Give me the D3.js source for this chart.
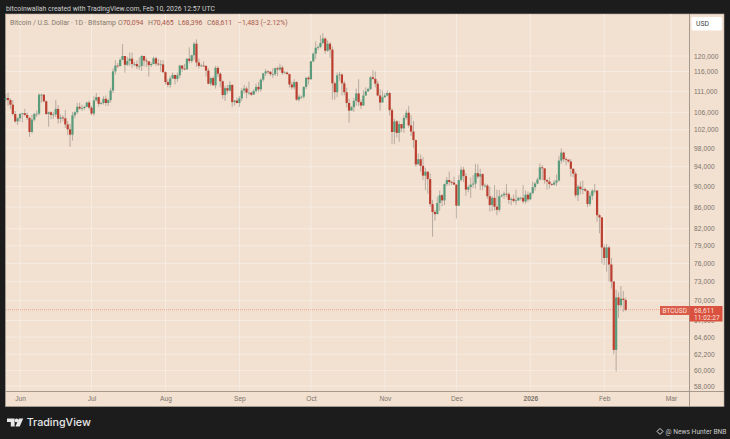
<!DOCTYPE html>
<html>
<head>
<meta charset="utf-8">
<script src="https://cdn.jsdelivr.net/npm/d3@7"></script>
<style>
  html, body { margin: 0; padding: 0; background: #1c1c1c; }
  svg { display: block; font-family: Roboto, "Liberation Sans", sans-serif; }
</style>
</head>
<body>
<svg id="chart" width="730" height="439"></svg>
<script>
// daily candles from 2025-05-26, prices in thousands of USD, one row per month
const firstDay = '2025-05-26';

const opens = [
  109.0,109.4,108.9,107.8,105.6,103.9,
  104.6,105.6,105.8,105.4,104.7,101.5,104.3,105.6,105.7,110.2,110.2,108.6,105.6,106.0,105.4,105.5,106.8,104.5,104.8,104.6,103.2,102.1,100.9,105.3,106.0,107.3,106.9,107.0,107.3,108.3,
  107.1,105.7,108.8,109.6,108.0,108.2,109.2,108.2,108.9,111.2,116.0,117.5,117.4,119.0,120.0,117.7,118.7,119.3,117.9,117.9,117.3,117.4,120.0,118.8,118.6,117.6,117.9,119.4,118.0,117.8,117.8,
  115.8,113.3,112.6,114.2,115.1,114.1,115.0,117.5,116.7,116.5,119.3,118.7,120.2,123.3,118.3,117.4,117.5,117.4,116.2,112.9,114.3,112.5,116.9,115.4,113.5,110.1,111.8,111.2,112.6,108.4,108.8,
  108.2,109.3,111.2,111.7,110.7,110.7,110.2,111.1,112.1,111.5,113.9,115.5,116.0,115.9,115.3,115.3,116.8,116.5,117.0,115.6,115.7,115.3,112.7,112.0,113.3,109.0,109.7,109.7,112.1,114.4,
  114.0,118.6,120.6,122.2,122.4,123.5,124.7,121.4,123.3,121.7,113.0,110.8,115.0,115.2,113.0,110.8,108.2,106.4,107.2,108.7,110.5,108.4,107.6,110.0,111.0,111.6,114.5,114.1,112.9,110.0,108.3,
  109.6,110.0,110.6,106.5,101.5,103.9,101.3,103.3,102.3,104.7,105.9,103.0,101.6,99.7,94.5,95.6,94.2,92.2,93.0,91.5,86.6,85.1,84.7,86.8,88.3,87.3,90.5,91.3,90.9,90.8,
  90.4,86.3,91.3,93.4,92.1,89.4,89.9,90.4,90.6,92.7,92.0,92.5,90.2,90.2,88.1,86.4,87.8,86.1,85.5,88.1,88.3,88.6,88.5,87.4,87.6,87.2,87.3,87.8,87.8,87.1,88.4,
  87.5,88.7,89.9,90.6,91.4,93.9,93.7,91.3,91.0,90.5,90.4,90.8,91.2,95.3,97.0,95.6,95.5,95.1,93.6,92.6,88.3,90.0,89.5,89.5,89.2,86.6,88.2,89.2,89.2,84.5,84.1,
  78.7,76.9,78.7,75.8,73.0,62.8,70.5,69.3,70.3,70.094
];

const closes = [
  109.4,108.9,107.8,105.6,103.9,104.6,
  105.6,105.8,105.4,104.7,101.5,104.3,105.6,105.7,110.2,110.2,108.6,105.6,106.0,105.4,105.5,106.8,104.5,104.8,104.6,103.2,102.1,100.9,105.3,106.0,107.3,106.9,107.0,107.3,108.3,107.1,
  105.7,108.8,109.6,108.0,108.2,109.2,108.2,108.9,111.2,116.0,117.5,117.4,119.0,120.0,117.7,118.7,119.3,117.9,117.9,117.3,117.4,120.0,118.8,118.6,117.6,117.9,119.4,118.0,117.8,117.8,115.8,
  113.3,112.6,114.2,115.1,114.1,115.0,117.5,116.7,116.5,119.3,118.7,120.2,123.3,118.3,117.4,117.5,117.4,116.2,112.9,114.3,112.5,116.9,115.4,113.5,110.1,111.8,111.2,112.6,108.4,108.8,108.2,
  109.3,111.2,111.7,110.7,110.7,110.2,111.1,112.1,111.5,113.9,115.5,116.0,115.9,115.3,115.3,116.8,116.5,117.0,115.6,115.7,115.3,112.7,112.0,113.3,109.0,109.7,109.7,112.1,114.4,114.0,
  118.6,120.6,122.2,122.4,123.5,124.7,121.4,123.3,121.7,113.0,110.8,115.0,115.2,113.0,110.8,108.2,106.4,107.2,108.7,110.5,108.4,107.6,110.0,111.0,111.6,114.5,114.1,112.9,110.0,108.3,109.6,
  110.0,110.6,106.5,101.5,103.9,101.3,103.3,102.3,104.7,105.9,103.0,101.6,99.7,94.5,95.6,94.2,92.2,93.0,91.5,86.6,85.1,84.7,86.8,88.3,87.3,90.5,91.3,90.9,90.8,90.4,
  86.3,91.3,93.4,92.1,89.4,89.9,90.4,90.6,92.7,92.0,92.5,90.2,90.2,88.1,86.4,87.8,86.1,85.5,88.1,88.3,88.6,88.5,87.4,87.6,87.2,87.3,87.8,87.8,87.1,88.4,87.5,
  88.7,89.9,90.6,91.4,93.9,93.7,91.3,91.0,90.5,90.4,90.8,91.2,95.3,97.0,95.6,95.5,95.1,93.6,92.6,88.3,90.0,89.5,89.5,89.2,86.6,88.2,89.2,89.2,84.5,84.1,78.7,
  76.9,78.7,75.8,73.0,62.8,70.5,69.3,70.3,70.094,68.611
];

const highs = [
  110.4,110.7,109.3,108.9,106.3,104.9,
  105.9,105.9,106.8,106.0,105.0,105.4,105.9,106.4,110.5,110.4,110.3,108.8,106.2,106.2,106.1,108.9,107.7,105.5,105.3,106.5,104.0,103.4,106.1,106.3,108.2,108.3,107.8,107.5,108.5,108.8,
  107.5,109.8,110.6,109.7,108.5,109.8,110.0,109.2,111.9,116.8,118.9,118.2,119.4,123.2,120.0,119.8,120.9,120.9,118.5,118.8,119.6,120.3,120.1,119.5,118.6,118.4,119.8,119.8,119.2,118.9,118.9,
  116.0,114.0,114.8,115.7,115.1,115.7,117.7,117.6,117.9,119.3,122.3,120.3,123.7,124.5,119.3,118.0,118.6,117.6,116.8,114.6,114.8,117.4,117.4,115.8,113.7,112.4,112.6,113.5,112.7,108.9,109.5,
  109.9,111.8,112.6,112.2,113.4,111.0,111.6,112.9,113.3,114.3,115.6,116.6,116.3,116.1,116.8,117.0,117.3,118.0,117.5,116.1,116.0,115.4,113.4,114.0,113.5,110.3,110.0,112.3,114.5,114.8,
  118.7,121.0,123.9,122.9,125.6,126.2,125.0,124.2,123.7,122.5,113.4,115.7,115.9,115.5,113.6,111.9,109.2,107.5,109.4,111.7,114.0,109.0,111.3,112.0,111.9,114.8,116.3,116.0,113.6,111.6,111.2,
  110.6,111.2,110.8,107.0,104.5,104.2,104.0,103.3,105.3,106.6,107.5,105.3,104.0,99.8,96.8,96.6,96.0,93.8,93.1,92.7,87.4,85.5,88.0,89.2,88.5,90.6,91.9,93.0,91.2,92.0,
  90.4,92.3,94.1,94.0,92.7,90.3,91.8,92.3,94.6,94.5,93.6,92.7,90.6,90.5,90.0,88.2,90.3,89.4,89.3,88.6,89.0,90.5,88.9,87.9,88.4,89.4,88.0,88.0,90.3,89.2,89.0,
  88.9,91.0,90.9,91.8,94.7,94.4,93.5,91.5,91.9,90.7,91.3,92.4,96.3,97.9,97.2,96.0,95.5,95.6,93.7,93.0,90.4,91.0,91.2,89.8,89.2,88.9,89.5,90.5,89.3,84.7,84.1,
  79.2,79.3,79.0,76.9,73.1,71.7,71.3,72.3,71.5,70.465
];

const lows = [
  108.7,107.5,106.8,105.3,103.6,103.1,
  103.8,103.7,105.1,104.2,100.4,101.2,103.9,104.9,105.3,108.3,108.3,105.4,102.7,104.4,104.5,104.9,103.4,103.5,103.9,102.4,100.8,98.2,99.6,104.6,105.6,106.6,106.3,106.6,107.2,106.7,
  105.3,105.2,108.6,107.3,107.8,107.8,107.5,107.5,108.3,110.6,115.2,116.9,117.2,118.9,115.7,117.4,117.4,116.9,117.3,116.6,116.4,116.1,117.3,117.1,114.7,117.1,117.8,117.4,117.4,115.9,115.6,
  112.7,112.0,111.9,114.1,112.7,113.4,114.3,115.9,116.3,116.5,118.1,118.2,118.9,117.2,116.8,117.2,117.2,114.7,112.7,112.4,112.4,111.7,114.5,112.0,109.2,108.7,110.4,110.9,107.3,107.6,108.1,
  107.3,108.7,110.5,109.3,110.2,109.9,110.2,110.6,110.8,110.9,113.4,114.8,115.3,114.8,114.4,114.8,114.8,116.0,115.1,115.5,115.2,111.9,111.5,111.5,108.7,108.6,109.2,109.2,111.6,112.7,
  113.9,118.3,119.3,121.6,122.1,123.1,120.6,121.1,119.5,109.0,109.0,109.6,113.6,110.0,110.0,107.2,103.6,106.4,106.1,107.5,107.5,106.8,107.5,109.9,111.0,111.3,113.9,112.0,109.8,106.4,108.6,
  109.4,109.8,105.3,98.9,98.8,100.3,99.3,101.5,101.3,104.3,102.5,100.6,98.0,94.0,94.6,93.0,91.3,89.3,88.6,86.1,80.6,83.5,84.7,85.3,86.2,86.4,90.1,90.2,90.3,90.3,
  83.9,86.2,91.0,90.9,88.2,88.9,87.8,89.7,89.6,91.6,89.3,89.3,89.8,87.6,85.2,85.3,85.4,84.5,85.1,87.9,87.6,87.9,86.6,86.4,86.9,86.4,87.2,87.3,86.7,86.7,87.0,
  87.3,88.5,89.2,90.5,91.3,91.3,90.6,89.4,89.6,90.1,90.2,90.1,91.0,94.6,95.0,94.3,94.9,92.0,91.9,87.9,87.2,88.5,88.5,89.0,86.0,86.2,87.4,88.7,83.3,81.2,76.0,
  75.7,74.6,73.0,71.9,62.2,59.9,67.4,68.9,68.3,68.396
];

const priceTicks = [120000,116000,111000,106000,102000,98000,94000,90000,86000,82000,79000,76000,73000,70000,67000,64600,62200,60000,58000];
const monthTicks = ['2025-06-01','2025-07-01','2025-08-01','2025-09-01','2025-10-01','2025-11-01','2025-12-01','2026-01-01','2026-02-01','2026-03-01'];
const lastPrice = 68611;

const parseDay = d3.utcParse('%Y-%m-%d');
const day0 = parseDay(firstDay);
const candles = closes.map((c, i) => ({
    date: d3.utcDay.offset(day0, i),
    open: opens[i] * 1000,
    high: highs[i] * 1000,
    low: lows[i] * 1000,
    close: c * 1000
}));

const panel = { left: 5.5, top: 14, right: 724, bottom: 406.5 };
const plotRight = 689.5, plotBottom = 391.5;

const UP = '#5a9b7c', DOWN = '#bb3f30', WICK = 'rgba(70,70,70,0.34)';
const LABEL = '#7b746c', RED = '#d9503f';

const x = d3.scaleUtc().domain([parseDay('2025-06-01'), parseDay('2026-03-01')]).range([20, 671]);
const y = d3.scaleLog().domain([58000, 120000]).range([386, 56]);

const svg = d3.select('#chart');

svg.append('text').attr('x', 6).attr('y', 10.5)
    .attr('font-size', 6.85).attr('fill', '#cfcfcf')
    .text('bitcoinwallah created with TradingView.com, Feb 10, 2026 12:57 UTC');

svg.append('rect')
    .attr('x', panel.left).attr('y', panel.top)
    .attr('width', panel.right - panel.left).attr('height', panel.bottom - panel.top)
    .attr('fill', '#f2e0d0').attr('stroke', '#b5aca2').attr('stroke-width', 0.6);

// grid
svg.append('g').selectAll('line').data(priceTicks).join('line')
    .attr('x1', panel.left + 0.5).attr('x2', plotRight)
    .attr('y1', d => y(d)).attr('y2', d => y(d))
    .attr('stroke', '#f6ece2').attr('stroke-width', 1);

svg.append('g').selectAll('line').data(monthTicks).join('line')
    .attr('x1', d => x(parseDay(d))).attr('x2', d => x(parseDay(d)))
    .attr('y1', panel.top).attr('y2', plotBottom)
    .attr('stroke', '#f6ece2').attr('stroke-width', 1);

// last price line
svg.append('line')
    .attr('x1', panel.left + 0.5).attr('x2', plotRight)
    .attr('y1', y(lastPrice)).attr('y2', y(lastPrice))
    .attr('stroke', '#e0654f').attr('stroke-width', 0.7).attr('stroke-dasharray', '1 1').attr('opacity', 0.7);

// candles
const bars = svg.append('g');
bars.selectAll('.wick').data(candles).join('line')
    .attr('class', 'wick')
    .attr('x1', d => x(d.date)).attr('x2', d => x(d.date))
    .attr('y1', d => y(d.high)).attr('y2', d => y(d.low))
    .attr('stroke', WICK).attr('stroke-width', 1);

bars.selectAll('.body').data(candles).join('rect')
    .attr('class', 'body')
    .attr('x', d => x(d.date) - 1.1).attr('width', 2.2)
    .attr('y', d => y(Math.max(d.open, d.close)))
    .attr('height', d => Math.max(0.8, Math.abs(y(d.open) - y(d.close))))
    .attr('fill', d => d.close >= d.open ? UP : DOWN);

// axes
const axisRight = d3.axisRight(y).tickValues(priceTicks).tickSize(0).tickPadding(4.5).tickFormat(d3.format(','));
const gy = svg.append('g').attr('transform', `translate(${plotRight},0)`).call(axisRight);
gy.select('.domain').remove();
gy.selectAll('text').attr('font-size', 6.6).attr('fill', LABEL).attr('font-family', 'inherit').attr('letter-spacing', 0.1);

const axisBottom = d3.axisBottom(x).tickValues(monthTicks.map(parseDay)).tickSize(0).tickPadding(5)
    .tickFormat(d => d.getUTCMonth() === 0 ? d3.utcFormat('%Y')(d) : d3.utcFormat('%b')(d));
const gx = svg.append('g').attr('transform', `translate(0,${plotBottom})`).call(axisBottom);
gx.select('.domain').remove();
gx.selectAll('text').attr('font-size', 6.6).attr('fill', LABEL).attr('font-family', 'inherit')
    .attr('font-weight', d => d.getUTCMonth() === 0 ? 700 : 400);

svg.append('line').attr('x1', plotRight).attr('x2', plotRight).attr('y1', panel.top).attr('y2', panel.bottom)
    .attr('stroke', '#9c9186').attr('stroke-width', 0.9);
svg.append('line').attr('x1', panel.left).attr('x2', panel.right).attr('y1', plotBottom).attr('y2', plotBottom)
    .attr('stroke', '#9c9186').attr('stroke-width', 0.9);

// USD button
svg.append('rect').attr('x', 691.5).attr('y', 17).attr('width', 30.5).attr('height', 13.5).attr('rx', 1.5).attr('fill', '#fff');
svg.append('text').attr('x', 696).attr('y', 26).attr('font-size', 6.8).attr('fill', '#444').text('USD');

// legend
const legend = svg.append('g').attr('font-size', 6.9);
legend.append('text').attr('x', 10).attr('y', 25.4).attr('fill', '#85796d').text('Bitcoin / U.S. Dollar · 1D · Bitstamp');
[['O', '70,094', 118], ['H', '70,465', 148], ['L', '68,396', 178], ['C', '68,611', 207]].forEach(([k, v, px]) => {
    const t = legend.append('text').attr('x', px).attr('y', 25.4);
    t.append('tspan').attr('fill', '#85796d').text(k);
    t.append('tspan').attr('fill', '#a8574a').text(v);
});
legend.append('text').attr('x', 238).attr('y', 25.4).attr('fill', '#a8574a').text('−1,483 (−2.12%)');

// last price labels
svg.append('rect').attr('x', 660).attr('y', 306).attr('width', 29.5).attr('height', 9).attr('fill', RED).attr('opacity', 0.92);
svg.append('text').attr('x', 662.5).attr('y', 312.8).attr('font-size', 6.4).attr('fill', '#fbe6dc').attr('letter-spacing', 0.1).text('BTCUSD');
svg.append('rect').attr('x', plotRight).attr('y', 306).attr('width', 33).attr('height', 15.5).attr('fill', RED);
svg.append('text').attr('x', 694).attr('y', 312.6).attr('font-size', 6.5).attr('fill', '#fbe6dc').attr('letter-spacing', 0.1).text(d3.format(',')(lastPrice));
svg.append('text').attr('x', 694).attr('y', 319.6).attr('font-size', 6.5).attr('fill', '#fbe6dc').attr('letter-spacing', 0.1).text('11:02:27');

// footer
const logo = svg.append('g').attr('fill', '#e8e8e8');
logo.append('path').attr('d', 'M7 418.5h7.6v8h-3.8v-4.4H7z');
logo.append('circle').attr('cx', 16.6).attr('cy', 420.4).attr('r', 1.9);
logo.append('path').attr('d', 'M18.9 418.5h4.3l-3.5 8h-4.3z');
svg.append('text').attr('x', 26.7).attr('y', 426.4).attr('font-size', 10.7).attr('font-weight', 500)
    .attr('font-family', 'Inter, Roboto, sans-serif').attr('fill', '#e8e8e8').text('TradingView');

svg.append('path').attr('d', 'M660 428.4l3 3-3 3-3-3z').attr('fill', 'none').attr('stroke', '#d8d8d8').attr('stroke-width', 1);
svg.append('text').attr('x', 665.5).attr('y', 434).attr('font-size', 6.7).attr('fill', '#c8c8c8').text('@ News Hunter BNB');
</script>
</body>
</html>
